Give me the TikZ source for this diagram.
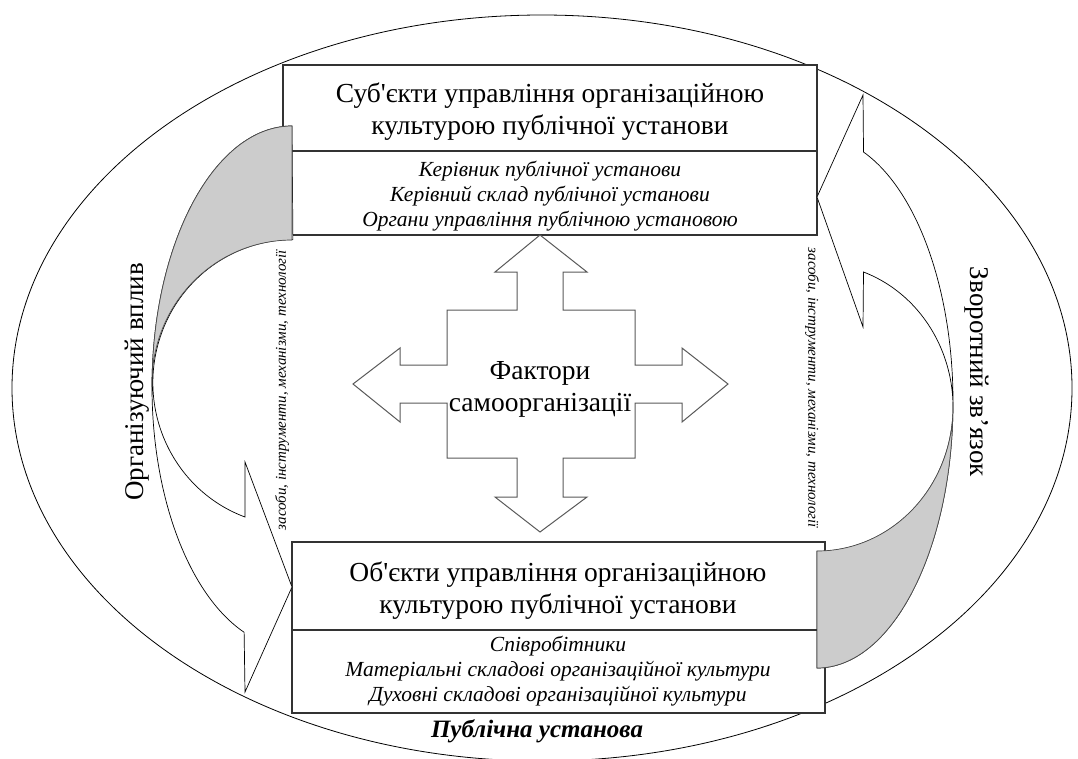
\documentclass[tikz,border=0pt]{standalone}
\usepackage{fontspec}
\setmainfont{Liberation Serif}[Ligatures=TeXOff]
\begin{document}
\begin{tikzpicture}[x=1pt,y=1pt,
  boxline/.style={draw=black!80, line width=1.1pt},
  arrline/.style={draw=black, line width=0.7pt},
  crossline/.style={draw=black!65, line width=1pt},
  backface/.style={fill=black!20, draw=black!70, line width=0.7pt},
  titletext/.style={align=center, font=\fontsize{27.5}{32}\selectfont},
  listtext/.style={align=center, font=\fontsize{21.5}{25}\selectfont\itshape},
  sidetext/.style={font=\fontsize{27}{30}\selectfont},
  smalltext/.style={font=\fontsize{15}{17}\selectfont\itshape}
]
\useasboundingbox (0,0) rectangle (1078,-758);
% outer ellipse
\draw[line width=0.8pt] (542,-388) ellipse [x radius=530pt, y radius=373pt];
% top box
\draw[boxline, fill=white] (283,-65) rectangle (817,-235);
\draw[boxline] (283,-151) -- (817,-151);
% bottom box
\draw[boxline, fill=white] (292,-542) rectangle (825,-713);
\draw[boxline] (292,-630) -- (825,-630);
% left curved arrow
\draw[arrline, fill=white] (292,-126) arc[start angle=90,end angle=250,x radius=140pt,y radius=261pt]
  -- (245,-692) -- (292,-587) -- (245,-462) -- (245,-517)
  arc[start angle=250,end angle=90,x radius=140pt,y radius=143pt] -- cycle;
\draw[backface] (292,-126) arc[start angle=90,end angle=180,x radius=140pt,y radius=261pt]
  -- (152,-383) arc[start angle=180,end angle=90,x radius=140pt,y radius=143pt] -- cycle;
% right curved arrow
\draw[arrline, fill=white] (817,-668) arc[start angle=270,end angle=430,x radius=136pt,y radius=266pt]
  -- (863,-95) -- (817,-197) -- (863,-327) -- (863.5,-272)
  arc[start angle=70,end angle=-90,x radius=136pt,y radius=144pt] -- cycle;
\draw[backface] (817,-668) arc[start angle=270,end angle=360,x radius=136pt,y radius=266pt]
  -- (953,-407) arc[start angle=0,end angle=-90,x radius=136pt,y radius=144pt] -- cycle;
% four-way arrow
\draw[crossline, fill=white] (540,-235) -- (587,-272) -- (563,-272) -- (563,-310) -- (635,-310)
  -- (635,-365) -- (682,-365) -- (682,-348) -- (728,-384) -- (682,-422) -- (682,-403)
  -- (635,-403) -- (635,-458) -- (563,-458) -- (563,-497) -- (587,-497) -- (540,-532)
  -- (495,-497) -- (517,-497) -- (517,-458) -- (447,-458) -- (447,-403) -- (400,-403)
  -- (400,-422) -- (353,-384) -- (400,-348) -- (400,-365) -- (447,-365) -- (447,-310)
  -- (517,-310) -- (517,-272) -- (495,-272) -- cycle;
% texts
\node[titletext] (subj) at (550,-112) {Суб'єкти управління організаційною\\культурою публічної установи};
\node[listtext] (subjlist) at (550,-196) {Керівник публічної установи\\Керівний склад публічної установи\\Органи управління публічною установою};
\node[titletext] (obj) at (558,-591) {Об'єкти управління організаційною\\культурою публічної установи};
\node[listtext] (objlist) at (558,-671) {Співробітники\\Матеріальні складові організаційної культури\\Духовні складові організаційної культури};
\node[align=center, font=\fontsize{27.5}{32}\selectfont] (factors) at (540,-389) {Фактори\\самоорганізації};
\node[font=\fontsize{25}{28}\selectfont\bfseries\itshape] (inst) at (537,-731) {Публічна установа};
\node[sidetext, rotate=90] (org) at (137,-382) {Організуючий вплив};
\node[sidetext, rotate=-90] (fb) at (977,-372) {Зворотний зв’язок};
\node[smalltext, rotate=90] (meansL) at (282,-390) {засоби, інструменти, механізми, технології};
\node[smalltext, rotate=-90] (meansR) at (812,-388) {засоби, інструменти, механізми, технології};
\end{tikzpicture}
\end{document}
